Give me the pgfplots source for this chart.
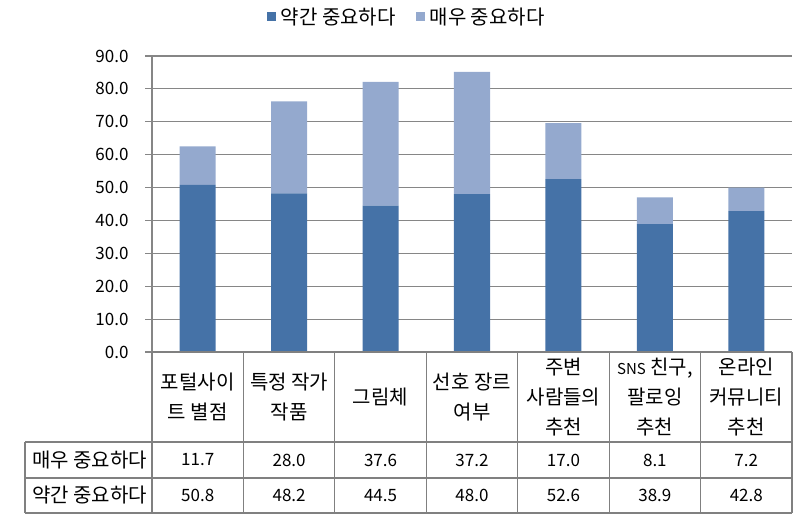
\documentclass[border=0pt]{standalone}
\usepackage{fontspec}
\setmainfont{Noto Sans CJK KR}
\usepackage{pgfplots}
\pgfplotsset{compat=1.18}
\definecolor{darkb}{RGB}{69,114,167}
\definecolor{lightb}{RGB}{148,169,206}
\definecolor{gridc}{RGB}{134,134,134}
\definecolor{tabc}{RGB}{128,128,128}
\begin{document}
\begin{tikzpicture}[font=\fontsize{20pt}{24pt}\selectfont]
\useasboundingbox (0pt,0pt) rectangle (801pt,-520pt);
\begin{axis}[
  at={(152pt,-352pt)}, anchor=south west,
  scale only axis, width=640pt, height=296pt,
  xmin=-0.5, xmax=6.5, ymin=0, ymax=90,
  ybar stacked, bar width=36pt,
  axis y line*=left, axis x line=none,
  y axis line style={gridc, line width=1.2pt},
  xtick=\empty,
  ytick distance=10,
  tick align=outside, major tick length=7pt,
  ytick style={gridc, line width=1.2pt},
  ymajorgrids, grid style={gridc, line width=1.2pt},
  yticklabel style={/pgf/number format/fixed, /pgf/number format/fixed zerofill, /pgf/number format/precision=1, /pgf/number format/assume math mode=true},
  yticklabel style={font=\fontsize{17pt}{20pt}\selectfont, xshift=-13pt},
  legend columns=2,
  legend style={draw=none, fill=none, at={(0.398,1.132)}, anchor=center,
    font=\fontsize{20pt}{24pt}\selectfont,
    /tikz/every odd column/.append style={column sep=3pt},
    /tikz/every even column/.append style={column sep=18pt}},
  legend image code/.code={\fill[#1,draw=none] (0pt,-4.5pt) rectangle (9pt,4.5pt);},
]
\addplot[fill=darkb, draw=none] coordinates {(0,50.8) (1,48.2) (2,44.5) (3,48.0) (4,52.6) (5,38.9) (6,42.8)};
\addplot[fill=lightb, draw=none] coordinates {(0,11.7) (1,28.0) (2,37.6) (3,37.2) (4,17.0) (5,8.1) (6,7.2)};
\legend{약간 중요하다, 매우 중요하다}
\end{axis}
\begin{scope}[x=1pt, y=-1pt]
  \draw[tabc, line width=1.2pt] (152,352) -- (792,352);
  \foreach \yy in {442,478,513} \draw[tabc, line width=1.2pt] (25,\yy) -- (792,\yy);
  \draw[tabc, line width=1.2pt] (25,442) -- (25,513);
  \foreach \xx in {152,243.43,334.86,426.29,517.71,609.14,700.57,792} \draw[tabc, line width=1.2pt] (\xx,352) -- (\xx,513);
  \foreach \lab [count=\i from 0] in {{포털사이\\트 별점},{특정 작가\\작품},{그림체},{선호 장르\\여부},{주변\\사람들의\\추천},{{\fontsize{15pt}{30pt}\selectfont SNS} 친구,\\팔로잉\\추천},{온라인\\커뮤니티\\추천}}
    \node[align=center, font=\fontsize{20pt}{30pt}\selectfont, inner sep=0pt] at ({197.71+91.43*\i},397) {\lab};
  \node[anchor=west, inner sep=0pt] at (32,460) {매우 중요하다};
  \node[anchor=west, inner sep=0pt] at (32,495.5) {약간 중요하다};
  \foreach \v [count=\i from 0] in {11.7,28.0,37.6,37.2,17.0,8.1,7.2}
    \node[inner sep=0pt, font=\fontsize{17pt}{20pt}\selectfont] at ({197.71+91.43*\i},460) {\v};
  \foreach \v [count=\i from 0] in {50.8,48.2,44.5,48.0,52.6,38.9,42.8}
    \node[inner sep=0pt, font=\fontsize{17pt}{20pt}\selectfont] at ({197.71+91.43*\i},495.5) {\v};
\end{scope}
\end{tikzpicture}
\end{document}
